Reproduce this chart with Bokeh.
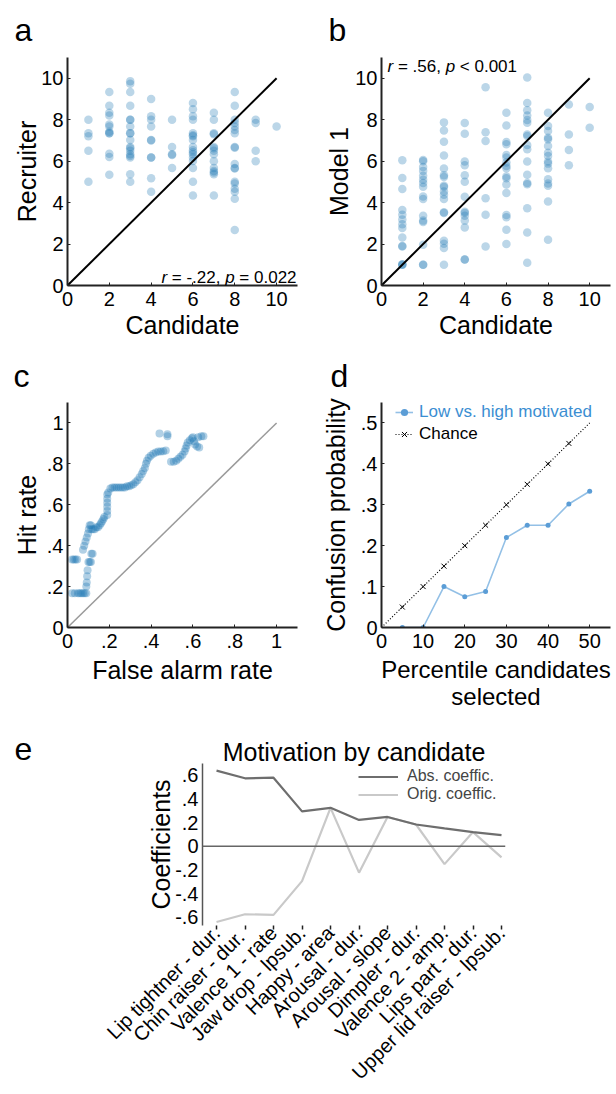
import math
from bokeh.plotting import figure
from bokeh.layouts import column, row
from bokeh.models import Label, Legend, LegendItem, Span, FixedTicker, Range1d
from bokeh.embed import file_html
from bokeh.resources import INLINE

FONT = "Liberation Sans"
BLUE = "#1f77b4"

# ---------------- data ----------------
# panel a: candidate self-rating vs recruiter rating
a_col1 = [8.0, 7.34, 7.2, 6.5, 5.0]
a_col2 = [9.33, 8.67, 8.33, 8.2, 7.77, 7.67, 7.42, 7.34, 7.34, 6.36, 6.2, 5.34]
a_col3 = [9.86, 9.73, 9.33, 8.67, 8.0, 8.0, 7.67, 7.34, 7.34, 7.02, 6.68, 6.62, 6.5, 6.33, 6.25, 6.17, 5.37, 5.0]
a_col4 = [9.0, 8.17, 8.0, 7.67, 7.02, 7.0, 6.17, 6.17, 5.17, 4.52]
a_col5 = [8.0, 6.68, 6.33, 6.3, 5.67]
a_col6 = [8.81, 8.5, 8.17, 8.0, 7.34, 7.25, 7.2, 7.02, 6.68, 6.52, 6.43, 6.33, 6.17, 6.01, 5.67, 5.0, 4.34]
a_col7 = [8.33, 8.0, 7.34, 7.3, 6.68, 6.62, 6.5, 6.33, 6.0, 5.67, 5.52, 5.45, 5.37, 4.34]
a_col8 = [9.33, 8.67, 8.0, 7.84, 7.67, 7.5, 7.34, 6.68, 6.65, 5.86, 5.67, 5.65, 5.0, 4.92, 4.67, 4.52, 4.18, 2.68]
a_col9 = [8.0, 7.84, 6.5, 6.0]
a_col10 = [7.67]
a_cols = [a_col1, a_col2, a_col3, a_col4, a_col5, a_col6, a_col7, a_col8, a_col9, a_col10]

# panel b: candidate self-rating vs model 1 prediction
b_col1 = [6.04, 5.19, 4.65, 3.64, 3.41, 3.19, 2.96, 2.77, 2.32, 1.91, 1.88, 1.0, 1.0, 1.02]
b_col2 = [6.06, 6.0, 5.72, 5.53, 5.29, 5.10, 4.94, 4.76, 4.29, 4.17, 3.37, 3.13, 3.06, 1.97, 1.0, 1.0]
b_col3 = [7.87, 7.48, 6.94, 6.27, 5.64, 5.32, 5.24, 4.81, 4.75, 4.54, 4.38, 4.17, 3.53, 3.5, 2.16, 2.02, 1.81, 1.0]
b_col4 = [7.84, 7.32, 5.98, 5.80, 5.32, 5.0, 4.28, 3.56, 3.5, 3.37, 3.13, 2.80, 1.25, 1.25]
b_col5 = [9.57, 7.39, 6.97, 4.21, 3.41, 1.88]
b_col6 = [8.33, 7.72, 6.92, 6.81, 6.30, 6.17, 5.93, 5.77, 5.66, 5.26, 5.18, 4.87, 4.46, 3.40, 3.29, 2.69, 2.0]
b_col7 = [10.03, 8.81, 8.45, 8.2, 7.98, 7.85, 7.29, 7.21, 6.78, 6.57, 5.98, 5.34, 4.94, 4.89, 3.73, 2.56, 1.1]
b_col8 = [8.33, 7.69, 7.45, 7.13, 7.05, 6.73, 6.41, 6.25, 5.98, 5.88, 5.66, 5.13, 4.92, 4.81, 4.05, 2.21]
b_col9 = [8.73, 7.29, 6.54, 5.80]
b_col10 = [8.61, 7.61]
b_cols = [b_col1, b_col2, b_col3, b_col4, b_col5, b_col6, b_col7, b_col8, b_col9, b_col10]

diag_xy = [0, 10]

# panel c: ROC-like curve (false alarm rate, hit rate)
roc_far = [0.022, 0.035, 0.05, 0.058, 0.066, 0.074, 0.082, 0.09,
           0.022, 0.03, 0.038, 0.046,
           0.09, 0.092, 0.094, 0.096, 0.1, 0.106, 0.112, 0.114, 0.12,
           0.074, 0.08, 0.086, 0.092, 0.098, 0.102, 0.106, 0.112,
           0.114, 0.122, 0.13, 0.138, 0.146, 0.154, 0.16, 0.166, 0.172, 0.176,
           0.19, 0.19, 0.19, 0.19, 0.19, 0.19, 0.195,
           0.205, 0.215, 0.225, 0.235, 0.245, 0.255, 0.265, 0.275, 0.285, 0.295, 0.305,
           0.315, 0.325, 0.335, 0.345, 0.355, 0.362, 0.37, 0.375, 0.38, 0.388, 0.398,
           0.41, 0.422, 0.434, 0.446, 0.458, 0.47,
           0.44, 0.478, 0.478,
           0.495, 0.508, 0.52, 0.53, 0.54, 0.55, 0.56, 0.565, 0.57, 0.575, 0.585,
           0.595, 0.6, 0.605, 0.61, 0.62, 0.63, 0.625, 0.64, 0.65]
roc_hit = [0.167, 0.167, 0.167, 0.167, 0.167, 0.167, 0.167, 0.167,
           0.333, 0.333, 0.333, 0.333,
           0.2, 0.22, 0.25, 0.28, 0.32, 0.32, 0.32, 0.36, 0.36,
           0.38, 0.4, 0.42, 0.44, 0.46, 0.48, 0.5, 0.5,
           0.48, 0.48, 0.48, 0.49, 0.49, 0.5, 0.51, 0.52, 0.53, 0.54,
           0.55, 0.57, 0.59, 0.61, 0.63, 0.65, 0.66,
           0.68, 0.685, 0.685, 0.685, 0.685, 0.685, 0.685, 0.685, 0.69, 0.69, 0.695,
           0.70, 0.71, 0.72, 0.735, 0.75, 0.765, 0.78, 0.8, 0.815, 0.83, 0.84,
           0.85, 0.855, 0.86, 0.86, 0.862, 0.865,
           0.948, 0.945, 0.935,
           0.81, 0.81, 0.815, 0.825, 0.835, 0.845, 0.86, 0.875, 0.89, 0.905, 0.915,
           0.925, 0.93, 0.91, 0.895, 0.885, 0.88, 0.93, 0.935, 0.935]
unit_diag = [0, 1]

# panel d: confusion probability
pct_selected = [5, 10, 15, 20, 25, 30, 35, 40, 45, 50]
conf_low_high = [0.0, 0.0, 0.1, 0.075, 0.088, 0.22, 0.25, 0.25, 0.302, 0.333]
chance_x = [0, 5, 10, 15, 20, 25, 30, 35, 40, 45, 50]
chance_y = [0.0, 0.05, 0.1, 0.15, 0.2, 0.25, 0.3, 0.35, 0.4, 0.45, 0.5]
chance_mark_x = [5, 10, 15, 20, 25, 30, 35, 40, 45]
chance_mark_y = [0.05, 0.1, 0.15, 0.2, 0.25, 0.3, 0.35, 0.4, 0.45]

# panel e: coefficients
features = ["Lip tightner - dur.", "Chin  raiser - dur.", "Valence 1 - rate", "Jaw drop - lpsub.",
            "Happy - area", "Arousal - dur.", "Arousal - slope", "Dimpler - dur.",
            "Valence 2 - amp.", "Lips part - dur.", "Upper lid raiser - lpsub."]
abs_coef = [0.64, 0.575, 0.58, 0.295, 0.325, 0.223, 0.248, 0.184, 0.151, 0.12, 0.094]
orig_coef = [-0.64, -0.575, -0.58, -0.295, 0.325, -0.223, 0.248, 0.184, -0.151, 0.12, -0.094]
feat_pos = list(range(1, len(features) + 1))


# ---------------- helpers ----------------
def make_fig(w, h, xr, yr, borders, xlabel, ylabel):
    p = figure(width=w, height=h, x_range=Range1d(*xr), y_range=Range1d(*yr),
               output_backend="svg", toolbar_location=None,
               min_border_left=borders[0], min_border_right=borders[1],
               min_border_top=borders[2], min_border_bottom=borders[3])
    p.outline_line_color = None
    p.grid.visible = False
    p.background_fill_color = "white"
    p.border_fill_color = "white"
    p.xaxis.axis_label = xlabel
    p.yaxis.axis_label = ylabel
    for ax in p.axis:
        ax.axis_line_width = 2
        ax.axis_line_color = "#222222"
        ax.major_tick_in = 3
        ax.major_tick_out = 0
        ax.major_tick_line_color = "#222222"
        ax.minor_tick_line_color = None
        ax.major_label_text_font = FONT
        ax.major_label_text_font_size = "20px"
        ax.major_label_text_color = "black"
        ax.axis_label_text_font = FONT
        ax.axis_label_text_font_size = "25px"
        ax.axis_label_text_font_style = "normal"
        ax.axis_label_text_color = "black"
    p.xaxis.major_label_standoff = 6
    p.xaxis.axis_label_standoff = 2
    p.yaxis.major_label_standoff = 4
    p.yaxis.axis_label_standoff = -3
    return p


def letter(p, t, offset, standoff):
    p.title.text = t
    p.title.align = "left"
    p.title.offset = offset
    p.title.standoff = standoff
    p.title.text_font = FONT
    p.title.text_font_size = "32px"
    p.title.text_font_style = "normal"
    p.title.text_color = "black"


def rich(p, x, y, pieces, size=17):
    for txt, italic, off in pieces:
        p.add_layout(Label(x=x, y=y, x_offset=off, text=txt, text_font=FONT,
                           text_font_size=f"{size}px",
                           text_font_style="italic" if italic else "normal",
                           text_baseline="alphabetic", text_align="left", text_color="black"))


def flatten(cols):
    xs, ys = [], []
    for i, col in enumerate(cols):
        xs += [i + 1] * len(col)
        ys += col
    return xs, ys


def em(v, size=17):
    return v * size


# ---------------- panel a ----------------
pa = make_fig(308, 346, (0, 11), (0, 11), (67, 11, 57, 61), "Candidate", "Recruiter")
ax_, ay_ = flatten(a_cols)
pa.scatter(ax_, ay_, marker="circle", size=8.5, fill_color=BLUE, fill_alpha=0.3, line_color=None)
pa.line(diag_xy, diag_xy, line_color="black", line_width=2)
for ax in pa.axis:
    ax.ticker = FixedTicker(ticks=[0, 2, 4, 6, 8, 10])
letter(pa, "a", -53, 19)
rich(pa, 4.49, 0.38, [("r", True, 0), ("= -.22,", False, em(0.611)),
                      ("p", True, em(3.752)), ("= 0.022", False, em(4.586))])

# ---------------- panel b ----------------
pb = make_fig(308, 346, (0, 11), (0, 11), (73, 6, 57, 61), "Candidate", "Model 1")
bx_, by_ = flatten(b_cols)
pb.scatter(bx_, by_, marker="circle", size=8.5, fill_color=BLUE, fill_alpha=0.3, line_color=None)
pb.line(diag_xy, diag_xy, line_color="black", line_width=2)
for ax in pb.axis:
    ax.ticker = FixedTicker(ticks=[0, 2, 4, 6, 8, 10])
pb.yaxis.axis_label_standoff = -1
letter(pb, "b", -53, 19)
rich(pb, 0.29, 10.58, [("r", True, 0), ("= .56,", False, em(0.611)),
                       ("p", True, em(3.419)), ("< 0.001", False, em(4.253))])

# ---------------- panel c ----------------
pc = make_fig(308, 366, (0, 1.1), (0, 1.1), (67, 11, 54, 84), "False alarm rate", "Hit rate")
pc.line(unit_diag, unit_diag, line_color="#9a9a9a", line_width=1.5)
pc.scatter(roc_far, roc_hit, marker="circle", size=8, fill_color=BLUE, fill_alpha=0.35, line_color=None)
frac_ticks = [0, 0.2, 0.4, 0.6, 0.8, 1]
frac_labels = {0: "0", 0.2: ".2", 0.4: ".4", 0.6: ".6", 0.8: ".8", 1: "1"}
for ax in pc.axis:
    ax.ticker = FixedTicker(ticks=frac_ticks)
    ax.major_label_overrides = frac_labels
pc.yaxis.axis_label_standoff = 3
pc.xaxis.axis_label_standoff = 5
letter(pc, "c", -54, 18)

# ---------------- panel d ----------------
pd_ = make_fig(308, 366, (0, 55), (0, 0.55), (73, 6, 54, 84),
               "Percentile candidates\nselected", "Confusion probability")
r_ch_line = pd_.line(chance_x, chance_y, line_color="black", line_width=1.2, line_dash="1 2")
r_ch_mark = pd_.scatter(chance_mark_x, chance_mark_y, marker="x", size=7, line_color="black", line_width=1)
r_lh_line = pd_.line(pct_selected, conf_low_high, line_color="#93c0e6", line_width=1.6)
r_lh_mark = pd_.scatter(pct_selected, conf_low_high, marker="circle", size=5, fill_color="#5b9dd6",
                        line_color=None)
pd_.xaxis.ticker = FixedTicker(ticks=[0, 10, 20, 30, 40, 50])
pd_.yaxis.ticker = FixedTicker(ticks=[0, 0.1, 0.2, 0.3, 0.4, 0.5])
pd_.yaxis.major_label_overrides = {0: "0", 0.1: ".1", 0.2: ".2", 0.3: ".3", 0.4: ".4", 0.5: ".5"}
pd_.yaxis.axis_label_standoff = 8
pd_.xaxis.axis_label_standoff = 5
pd_.xaxis.axis_label_text_font_size = "24px"
pd_.xaxis.axis_label_text_line_height = 1.0
leg1 = Legend(items=[LegendItem(label="Low vs. high motivated", renderers=[r_lh_line, r_lh_mark])],
              location=(14, 205), label_text_color="#3b8ed2")
leg2 = Legend(items=[LegendItem(label="Chance", renderers=[r_ch_line, r_ch_mark])],
              location=(14, 183), label_text_color="black")
for lg in (leg1, leg2):
    lg.label_text_font = FONT
    lg.label_text_font_size = "17px"
    lg.glyph_width = 18
    lg.glyph_height = 20
    lg.label_height = 20
    lg.label_standoff = 6
    lg.padding = 0
    lg.margin = 0
    lg.spacing = 0
    lg.border_line_color = None
    lg.background_fill_alpha = 0
    pd_.add_layout(lg)
letter(pd_, "d", -51, 18)

# ---------------- panel e ----------------
pe_tag = figure(width=40, height=382, output_backend="svg", toolbar_location=None,
                x_axis_location=None, y_axis_location=None,
                min_border_left=0, min_border_right=0, min_border_top=51, min_border_bottom=164)
pe_tag.outline_line_color = None
pe_tag.grid.visible = False
letter(pe_tag, "e", 14, 8)

pe = make_fig(576, 382, (0.508, 11.14), (-0.67, 0.7), (162, 111, 51, 164), "", "Coefficients")
pe.title.text = "Motivation by candidate"
pe.title.align = "center"
pe.title.text_font = FONT
pe.title.text_font_size = "25px"
pe.title.text_font_style = "normal"
pe.title.text_color = "black"
pe.title.standoff = -5
pe.add_layout(Span(location=0, dimension="width", line_color="#666666", line_width=1.5))
r_orig = pe.line(feat_pos, orig_coef, line_color="#c9c9c9", line_width=2.2)
r_abs = pe.line(feat_pos, abs_coef, line_color="#6e6e6e", line_width=2.2)
pe.xaxis.ticker = FixedTicker(ticks=feat_pos)
pe.xaxis.major_label_overrides = {i: f for i, f in zip(feat_pos, features)}
pe.xaxis.major_label_orientation = math.pi / 4
pe.xaxis.major_label_text_font_size = "20px"
pe.xaxis.major_label_standoff = 0
pe.xaxis.axis_line_color = None
pe.xaxis.major_tick_in = 0
pe.xaxis.major_tick_out = 4
pe.xaxis.major_tick_line_width = 1.5
pe.yaxis.ticker = FixedTicker(ticks=[-0.6, -0.4, -0.2, 0, 0.2, 0.4, 0.6])
pe.yaxis.major_label_overrides = {-0.6: "-.6", -0.4: "-.4", -0.2: "-.2", 0: "0",
                                  0.2: ".2", 0.4: ".4", 0.6: ".6"}
pe.yaxis.axis_line_color = "#555555"
pe.yaxis.axis_line_width = 1.5
pe.yaxis.major_tick_in = 0
legE = Legend(items=[LegendItem(label="Abs. coeffic.", renderers=[r_abs]),
                     LegendItem(label="Orig. coeffic.", renderers=[r_orig])],
              location=(156, 122))
legE.label_text_font = FONT
legE.label_text_font_size = "16px"
legE.glyph_width = 40
legE.glyph_height = 17
legE.label_height = 17
legE.label_standoff = 9
legE.padding = 0
legE.margin = 0
legE.spacing = 0
legE.border_line_color = None
legE.background_fill_alpha = 0
pe.add_layout(legE)

layout = column(row(pa, pb), row(pc, pd_), row(pe_tag, pe))
open("out.html", "w").write(file_html(layout, INLINE))
